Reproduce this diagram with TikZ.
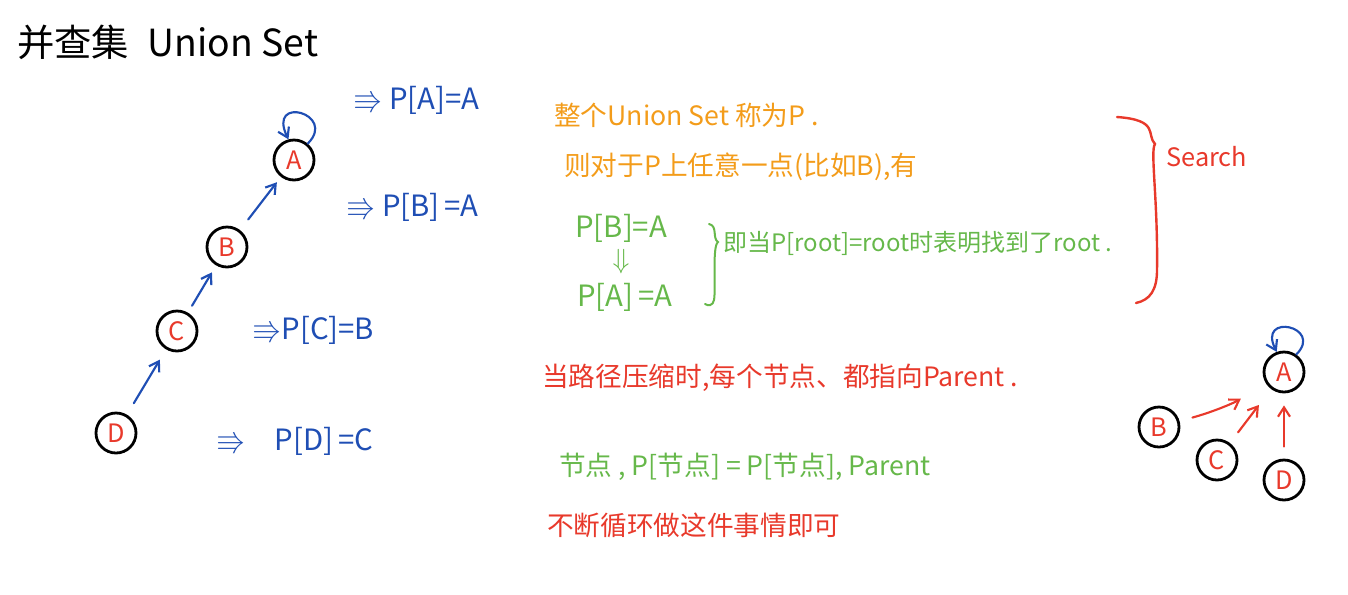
\documentclass[tikz,border=0pt]{standalone}
\usepackage{amssymb}
\usepackage{amsmath}
\usepackage{fontspec}
\newfontfamily\cjk{Noto Sans CJK SC}
\usetikzlibrary{arrows.meta}
\definecolor{penred}{HTML}{E8392B}
\definecolor{penblue}{HTML}{1F4EB4}
\definecolor{pengreen}{HTML}{66B84A}
\definecolor{penorange}{HTML}{F39C1A}
\tikzset{
  vtx/.style={circle,draw=black,line width=2.1pt,minimum size=30pt,inner sep=0pt,
    text=penred,font=\cjk\fontsize{19}{19}\selectfont},
  note/.style={anchor=west,inner sep=0.75pt,font=\cjk\fontsize{20}{24}\selectfont},
  pen/.style={line width=1.6pt,line cap=round,-{Straight Barb[length=7pt,width=9pt]}}
}

\begin{document}
\begin{tikzpicture}[x=0.75pt,y=0.75pt,yscale=-1,xscale=1]
\path[use as bounding box] (0,0) rectangle (1348,594);

% Title
\node[note,font=\cjk\fontsize{28}{32}\selectfont] (title) at (16,42) {并查集\hspace{14pt}Union Set};

%Shape: Circles, left tree
\node[vtx] (A) at (294,160) {A};
\node[vtx] (B) at (227,247) {B};
\node[vtx] (C) at (177,331) {C};
\node[vtx] (D) at (116,433) {D};

%Straight Lines, child to parent
\draw[pen,penblue,shorten <=10pt,shorten >=9pt] (D) -- (C);
\draw[pen,penblue,shorten <=6pt,shorten >=6pt] (C) -- (B);
\draw[pen,penblue,shorten <=10pt,shorten >=5pt] (B) -- (A);
%Self loop
\draw[pen,penblue] (A.50) .. controls +(30,-30) and +(-22,-45) .. (A.105);

% Text Node
\node[note,text=penblue,font=\cjk\fontsize{22}{24}\selectfont] (pa) at (352,100) {$\Rrightarrow$ P[A]=A};
% Text Node
\node[note,text=penblue,font=\cjk\fontsize{22}{24}\selectfont] (pb) at (345,207) {$\Rrightarrow$ P[B]\,=A};
% Text Node
\node[note,text=penblue,font=\cjk\fontsize{22}{24}\selectfont] (pc) at (251,330) {$\Rrightarrow$P[C]=B};
% Text Node
\node[note,text=penblue,font=\cjk\fontsize{22}{24}\selectfont] (pd) at (215,441) {$\Rrightarrow$\hspace{22pt}P[D]\,=C};

% Text Node
\node[note,text=penorange] (whole) at (553,115) {整个Union Set 称为P .};
% Text Node
\node[note,text=penorange] (any) at (563,167) {则对于P上任意一点(比如B),有};

% Text Node
\node[note,text=pengreen,font=\cjk\fontsize{22}{24}\selectfont] (gb) at (574,228) {P[B]=A};
\node[text=pengreen,inner sep=0.75pt,font=\fontsize{22}{24}\selectfont] (gdown) at (621,262) {$\Downarrow$};
\node[note,text=pengreen,font=\cjk\fontsize{22}{24}\selectfont] (ga) at (576,297) {P[A]\,=A};
%Brace
\draw[pengreen,line width=1.5pt,line cap=round] (709,224) .. controls (718,226) and (712,238) .. (718,242)
  .. controls (712,246) and (716,290) .. (714,300) .. controls (713,306) and (708,306) .. (705,304);
% Text Node
\node[note,text=pengreen,font=\cjk\fontsize{18}{20}\selectfont] (root) at (722,243) {即当P[root]=root时表明找到了root .};

%Big brace
\draw[penred,line width=1.8pt,line cap=round] (1117,117) .. controls (1160,120) and (1146,135) .. (1155,144)
  .. controls (1150,150) and (1158,200) .. (1157,270) .. controls (1157,290) and (1150,300) .. (1136,303);
% Text Node
\node[note,text=penred,font=\cjk\fontsize{19}{22}\selectfont] (search) at (1165,157) {Search};

% Text Node
\node[note,text=penred] (compress) at (541,378) {当路径压缩时,每个节点、都指向Parent .};
% Text Node
\node[note,text=pengreen] (rule) at (558,467) {节点 , P[节点] = P[节点], Parent};
% Text Node
\node[note,text=penred] (loop) at (546,525) {不断循环做这件事情即可};

%Shape: Circles, right tree
\node[vtx] (A2) at (1284,372) {A};
\node[vtx] (B2) at (1159,427) {B};
\node[vtx] (C2) at (1217,460) {C};
\node[vtx] (D2) at (1284,480) {D};
\draw[pen,penred,shorten <=10pt,shorten >=22pt] (B2) to[bend left=8] (A2);
\draw[pen,penred,shorten <=10pt,shorten >=15pt] (C2) -- (A2);
\draw[pen,penred,shorten <=9pt,shorten >=9pt] (D2) -- (A2);
\draw[pen,penblue] (A2.55) .. controls +(28,-28) and +(-20,-40) .. (A2.110);
\end{tikzpicture}
\end{document}
